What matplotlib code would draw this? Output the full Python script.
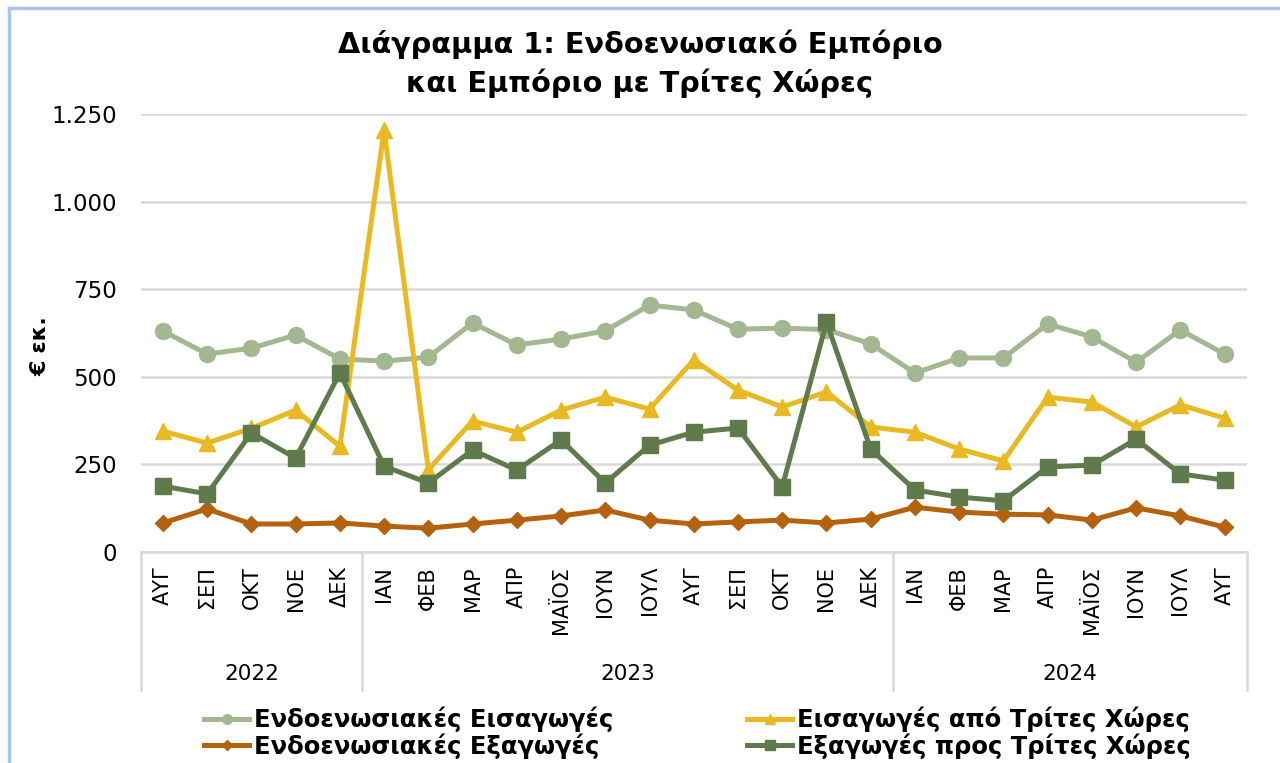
import matplotlib.pyplot as plt
import matplotlib.transforms as mtransforms
from matplotlib.lines import Line2D

# Data (εκ. €)
months = ['ΑΥΓ', 'ΣΕΠ', 'ΟΚΤ', 'ΝΟΕ', 'ΔΕΚ',
          'ΙΑΝ', 'ΦΕΒ', 'ΜΑΡ', 'ΑΠΡ', 'ΜΑΪΟΣ', 'ΙΟΥΝ', 'ΙΟΥΛ', 'ΑΥΓ', 'ΣΕΠ', 'ΟΚΤ', 'ΝΟΕ', 'ΔΕΚ',
          'ΙΑΝ', 'ΦΕΒ', 'ΜΑΡ', 'ΑΠΡ', 'ΜΑΪΟΣ', 'ΙΟΥΝ', 'ΙΟΥΛ', 'ΑΥΓ']
years = ['2022', '2023', '2024']
year_counts = [5, 12, 8]

intra_imports = [631, 565, 582, 619, 551, 545, 556, 654, 591, 608, 631, 705, 691,
                 636, 639, 635, 594, 511, 554, 554, 651, 614, 542, 634, 565]
extra_imports = [345, 311, 353, 405, 302, 1205, 235, 374, 342, 405, 442, 408, 548,
                 462, 414, 457, 357, 342, 294, 260, 442, 428, 357, 420, 382]
intra_exports = [83, 123, 80, 80, 83, 74, 68, 80, 91, 103, 120, 91, 80,
                 86, 91, 83, 94, 128, 114, 108, 106, 91, 126, 103, 71]
extra_exports = [188, 166, 340, 268, 511, 245, 197, 291, 234, 320, 197, 305, 342,
                 354, 186, 656, 294, 177, 157, 146, 243, 248, 322, 223, 205]

c_intra_imp = '#a3b891'
c_extra_imp = '#e8b923'
c_intra_exp = '#b5620f'
c_extra_exp = '#5f7a4b'
grid_c = '#d9d9d9'

plt.rcParams['font.family'] = ['DejaVu Sans']

fig = plt.figure(figsize=(12.8, 7.63), dpi=100)
ax = fig.add_axes([0.110, 0.2765, 0.864, 0.574])

x = list(range(len(months)))
ax.plot(x, intra_imports, color=c_intra_imp, lw=3.6, marker='o', ms=11.5,
        label='Ενδοενωσιακές Εισαγωγές', zorder=3)
ax.plot(x, extra_imports, color=c_extra_imp, lw=3.6, marker='^', ms=12,
        label='Εισαγωγές από Τρίτες Χώρες', zorder=3)
ax.plot(x, intra_exports, color=c_intra_exp, lw=3.6, marker='D', ms=8,
        label='Ενδοενωσιακές Εξαγωγές', zorder=3)
ax.plot(x, extra_exports, color=c_extra_exp, lw=3.6, marker='s', ms=11.5,
        label='Εξαγωγές προς Τρίτες Χώρες', zorder=4)

ax.set_xlim(-0.5, len(months) - 0.5)
ax.set_ylim(0, 1250)
ax.set_yticks([0, 250, 500, 750, 1000, 1250])
ax.set_yticklabels(['0', '250', '500', '750', '1.000', '1.250'])
ax.yaxis.grid(True, color=grid_c, lw=1.8)
ax.set_axisbelow(True)
for s in ['top', 'right', 'left']:
    ax.spines[s].set_visible(False)
ax.spines['bottom'].set_color(grid_c)
ax.spines['bottom'].set_linewidth(1.8)
ax.tick_params(axis='y', length=0, labelsize=16.5, pad=17)
ax.set_xticks(x)
ax.set_xticklabels(months, rotation=90, fontsize=15, va='top')
ax.tick_params(axis='x', length=0, pad=10)
ax.set_ylabel('€ εκ.', fontsize=16, fontweight='bold')
ax.yaxis.set_label_coords(-0.082, 0.47)

# year groups
trans = mtransforms.blended_transform_factory(ax.transData, ax.transAxes)
pos = -0.5
ax.plot([pos, pos], [0, -0.315], transform=trans, color=grid_c, lw=1.8, clip_on=False)
for yr, n in zip(years, year_counts):
    ax.text(pos + n / 2, -0.279, yr, transform=trans, ha='center', va='center', fontsize=15.5)
    pos += n
    ax.plot([pos, pos], [0, -0.315], transform=trans, color=grid_c, lw=1.8, clip_on=False)

fig.text(0.5, 1 - 64 / 763, 'Διάγραμμα 1: Ενδοενωσιακό Εμπόριο\nκαι Εμπόριο με Τρίτες Χώρες',
         ha='center', va='center', fontsize=20.7, fontweight='bold', linespacing=1.42)

h, l = ax.get_legend_handles_labels()
order = [0, 2, 1, 3]
leg = fig.legend([h[i] for i in order], [l[i] for i in order], ncol=2,
                 loc='center', bbox_to_anchor=(0.545, 0.0395), frameon=False,
                 prop={'weight': 'bold', 'size': 17.5}, handlelength=1.85,
                 handletextpad=0.2, columnspacing=5.5, labelspacing=0.05,
                 numpoints=1, markerscale=0.6, borderpad=0.1)

# outer border (blue)
fig.add_artist(Line2D([9 / 1280, 9 / 1280], [0, 1 - 8 / 763], color='#a9c6ea', lw=2.5))
fig.add_artist(Line2D([9 / 1280, 1], [1 - 8 / 763, 1 - 8 / 763], color='#a9c6ea', lw=2.5))

fig.savefig('out.png', dpi=100, facecolor='white')
